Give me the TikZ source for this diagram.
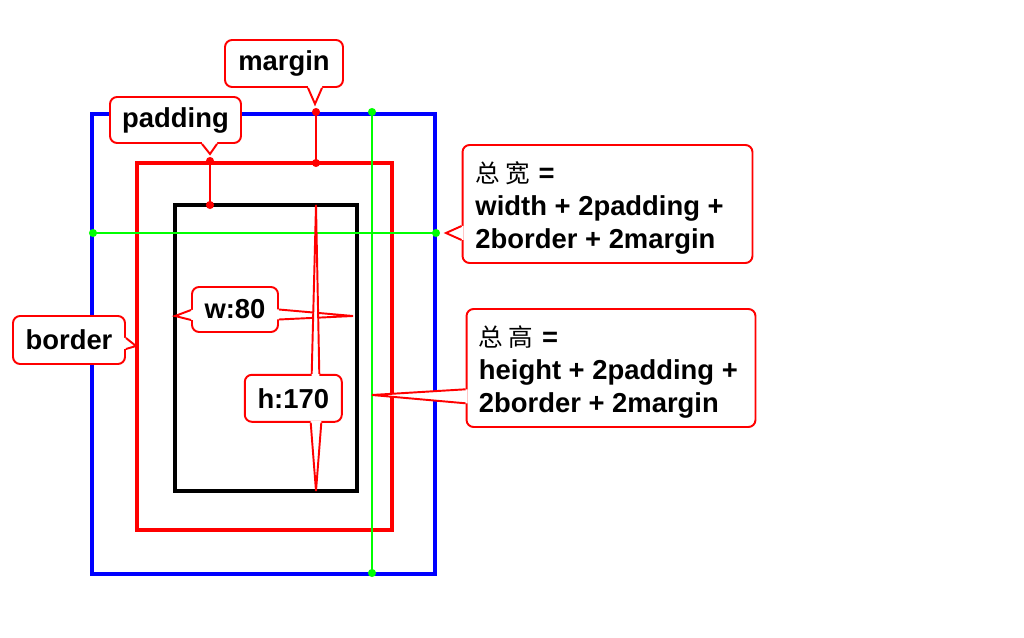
\documentclass[tikz,border=0pt]{standalone}
\usepackage{fontspec}
\setmainfont{Liberation Sans}
\newfontfamily\cjk{Noto Sans CJK SC}
\usetikzlibrary{calc}
\definecolor{lgreen}{RGB}{0,255,0}

\tikzset{
  frameline/.style={line width=2pt},
  greenline/.style={draw=lgreen, line width=1.3pt},
  redmark/.style={draw=red, line width=1.3pt},
  callbox/.style={draw=red, line width=1.1pt, fill=white, rounded corners=4pt, inner sep=0pt},
  ptrline/.style={draw=red, line width=1.1pt, line join=miter}
}
% callout pointer: anchor, two base offsets, tip, inward shift
\newcommand\calloutptr[5]{%
  \fill[white] ($(#1)+(#2)+(#5)$) -- ($(#1)+(#2)$) -- (#4) -- ($(#1)+(#3)$) -- ($(#1)+(#3)+(#5)$) -- cycle;
  \draw[ptrline] ($(#1)+(#2)$) -- (#4) -- ($(#1)+(#3)$);}
\newcommand\cjktext[1]{\rule{0pt}{16.5pt}{\cjk\mdseries\fontsize{14}{18.9}\selectfont #1}}

\begin{document}
\begin{tikzpicture}[x=0.02cm, y=-0.02cm, font=\fontsize{15.6}{18.9}\selectfont\bfseries]
\useasboundingbox (0,0) rectangle (1024,638);
% boxes
\draw[frameline, blue] (92,114) rectangle (435,574);
\draw[frameline, red] (137,163) rectangle (392,530);
\draw[frameline, black] (175,205) rectangle (357,491);

% margin and padding marks
\coordinate (mtop) at (316,112);
\coordinate (mbot) at (316,163);
\coordinate (ptop) at (210,161);
\coordinate (pbot) at (210,205);
\draw[redmark] (mtop) -- (mbot);
\draw[redmark] (ptop) -- (pbot);
\foreach \p in {mtop,mbot,ptop,pbot}
  \fill[red] (\p) circle[radius=2.3pt];

% total width / height
\coordinate (gl) at (93,233);
\coordinate (gr) at (436,233);
\coordinate (gt) at (372,112);
\coordinate (gb) at (372,573);
\draw[greenline] (gl) -- (gr);
\draw[greenline] (gt) -- (gb);
\foreach \p in {gl,gr,gt,gb}
  \fill[lgreen] (\p) circle[radius=2.3pt];

% callouts
\node[callbox, minimum width=2.36cm, minimum height=0.94cm] (margin) at (284,63.5) {margin};
\calloutptr{margin.south}{24,0}{38,0}{$(mtop)+(-1,-8)$}{0,-2}
\node[callbox, minimum width=2.62cm, minimum height=0.92cm] (padding) at (175.5,120) {padding};
\calloutptr{padding.south}{26.5,0}{41.5,0}{$(ptop)+(0,-7)$}{0,-2}
\node[callbox, minimum width=2.24cm, minimum height=0.96cm] (border) at (69,340) {border};
\calloutptr{border.east}{0,-2}{0,9}{136,346}{-2,0}

\node[callbox, minimum width=1.72cm, minimum height=0.9cm] (w80) at (235,309.5) {w:80};
\calloutptr{w80.west}{0,0.5}{0,10.5}{175,316}{2,0}
\calloutptr{w80.east}{0,0}{0,10}{353,316}{-2,0}
\node[callbox, minimum width=1.94cm, minimum height=0.94cm] (h170) at (293.3,398.3) {h:170};
\calloutptr{h170.north}{18.4,0}{26,0}{316,205}{0,2}
\calloutptr{h170.south}{17.4,0}{28,0}{316,491}{0,-2}

\node[callbox, minimum width=5.8cm, minimum height=2.36cm, align=left] (wsum) at (607.5,204)
  {\cjktext{总\hspace{3pt}宽}\hspace{5pt}=\\width + 2padding +\rule{9pt}{0pt}\\2border + 2margin};
\calloutptr{wsum.west}{0,22}{0,36}{$(gr)+(10,0)$}{2,0}
\node[callbox, minimum width=5.78cm, minimum height=2.36cm, align=left] (hsum) at (611,368)
  {\cjktext{总\hspace{3pt}高}\hspace{5pt}=\\height + 2padding +\rule{3pt}{0pt}\\2border + 2margin};
\calloutptr{hsum.west}{0,21.3}{0,35.3}{372,395}{2,0}
\end{tikzpicture}
\end{document}
